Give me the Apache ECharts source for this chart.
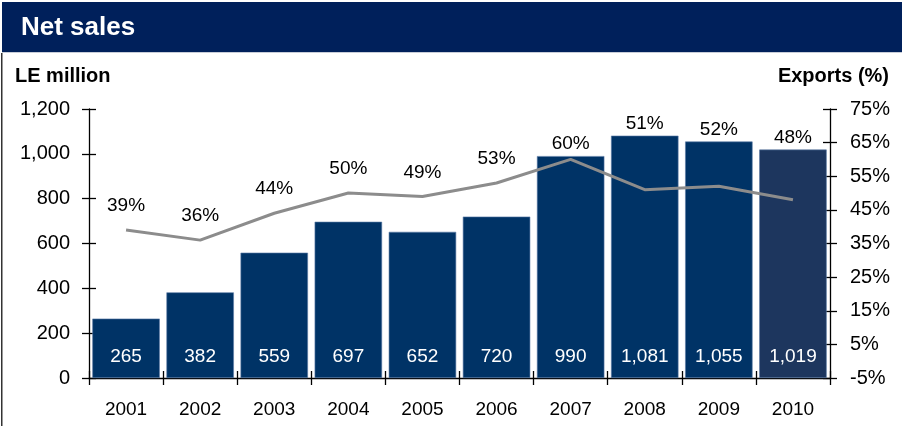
<!DOCTYPE html>
<html>
<head>
<meta charset="utf-8">
<script src="https://cdn.jsdelivr.net/npm/echarts@6/dist/echarts.min.js"></script>
<style>
  html, body { margin: 0; padding: 0; background: #ffffff; }
  #chart { width: 902px; height: 426px; }
</style>
</head>
<body>
<div id="chart"></div>
<script>
// Net sales (LE million) with export share (%)
const years = ['2001', '2002', '2003', '2004', '2005', '2006', '2007', '2008', '2009', '2010'];
const netSales = [265, 382, 559, 697, 652, 720, 990, 1081, 1055, 1019];
const exportsPct = [39, 36, 44, 50, 49, 53, 60, 51, 52, 48];

// Right axis runs from -5% to 75% in steps of 10%
const pctMin = -5;
const pctMax = 75;
const pctStep = 10;

const FONT = '"Liberation Sans", Arial, sans-serif';
const NAVY = '#00205B';
const BAR = '#003366';
const BAR_LAST = '#1D365E';

const chart = echarts.init(document.getElementById('chart'), null, { renderer: 'canvas' });

// percent values shifted so that the axis starts at zero and ticks land on -5, 5, 15 ...
const shift = -pctMin;
const pctAxisData = exportsPct.map(v => v + shift);

const tickLine = { lineStyle: { color: '#000', width: 1.3 } };

const option = {
  animation: false,
  textStyle: { fontFamily: FONT },
  grid: { left: 89, right: 72, top: 109, bottom: 48, containLabel: false },
  graphic: [
    { type: 'rect', left: 2, top: 2, shape: { width: 900, height: 50 }, style: { fill: NAVY } },
    { type: 'rect', left: 2, top: 52, shape: { width: 900, height: 1 }, style: { fill: '#c8cdd8' } },
    { type: 'rect', left: 1, top: 53, shape: { width: 1.5, height: 373 }, style: { fill: '#333' } },
    { type: 'text', left: 21, top: 15, style: { text: 'Net sales', fill: '#fff', font: 'bold 26px ' + FONT } },
    { type: 'text', left: 15, top: 66, style: { text: 'LE million', fill: '#000', font: 'bold 20px ' + FONT } },
    { type: 'text', right: 13, top: 66, style: { text: 'Exports (%)', fill: '#000', font: 'bold 20px ' + FONT } }
  ],
  xAxis: [
    {
      type: 'category', data: years, boundaryGap: true,
      axisLine: { lineStyle: { color: '#000', width: 1.3 } },
      axisTick: Object.assign({ show: true, length: 7, inside: false, alignWithLabel: false }, tickLine),
      axisLabel: { color: '#000', fontSize: 19, margin: 22, fontFamily: FONT }
    },
    {
      type: 'category', data: years, boundaryGap: true, position: 'bottom',
      axisLine: { show: false },
      axisTick: Object.assign({ show: true, length: 7, inside: true }, tickLine),
      axisLabel: { show: false }
    }
  ],
  yAxis: [
    {
      type: 'value', min: 0, max: 1200, interval: 200, position: 'left',
      axisLine: { show: true, lineStyle: { color: '#000', width: 1.3 } },
      axisTick: Object.assign({ show: true, length: 7, inside: false }, tickLine),
      splitLine: { show: false },
      axisLabel: {
        color: '#000', fontSize: 20, margin: 19, fontFamily: FONT,
        formatter: v => v.toLocaleString('en-US')
      }
    },
    {
      type: 'value', min: 0, max: pctMax - pctMin, interval: pctStep, position: 'right',
      axisLine: { show: true, lineStyle: { color: '#000', width: 1.3 } },
      axisTick: Object.assign({ show: true, length: 7, inside: false }, tickLine),
      splitLine: { show: false },
      axisLabel: {
        color: '#000', fontSize: 20, margin: 20, fontFamily: FONT,
        formatter: v => (v - shift) + '%'
      }
    },
    {
      type: 'value', min: 0, max: 1200, interval: 200, position: 'left',
      axisLine: { show: false },
      axisTick: Object.assign({ show: true, length: 7, inside: true }, tickLine),
      splitLine: { show: false }, axisLabel: { show: false }
    },
    {
      type: 'value', min: 0, max: pctMax - pctMin, interval: pctStep, position: 'right',
      axisLine: { show: false },
      axisTick: Object.assign({ show: true, length: 7, inside: true }, tickLine),
      splitLine: { show: false }, axisLabel: { show: false }
    }
  ],
  series: [
    {
      name: 'Net sales', type: 'bar', xAxisIndex: 0, yAxisIndex: 0,
      barCategoryGap: '9%',
      data: netSales.map((v, i) => ({
        value: v,
        itemStyle: { color: i === netSales.length - 1 ? BAR_LAST : BAR }
      })),
      itemStyle: { borderColor: '#5a7aa6', borderWidth: 0.6 },
      label: {
        show: true, position: 'insideBottom', distance: 12,
        color: '#fff', fontSize: 19, fontFamily: FONT,
        formatter: p => p.value.toLocaleString('en-US')
      },
      z: 2
    },
    {
      name: 'Exports', type: 'line', xAxisIndex: 0, yAxisIndex: 1,
      data: pctAxisData,
      symbol: 'circle', symbolSize: 1, showSymbol: true,
      itemStyle: { color: 'rgba(0,0,0,0)' },
      smooth: false,
      lineStyle: { color: '#8C8C8C', width: 3 },
      label: {
        show: true, position: 'top', distance: 14,
        color: '#000', fontSize: 19, fontFamily: FONT,
        formatter: p => exportsPct[p.dataIndex] + '%'
      },
      z: 3
    }
  ]
};

chart.setOption(option);

// Lift each percentage label clear of its bar when the bar top sits above the line point.
const lineData = pctAxisData.map((v, i) => {
  const pointY = chart.convertToPixel({ yAxisIndex: 1 }, v);
  const barTop = chart.convertToPixel({ yAxisIndex: 0 }, netSales[i]);
  let centre;
  if (pointY >= barTop) {
    centre = barTop - 12;
  } else {
    centre = pointY - 24;
  }
  const distance = Math.max(2, pointY - centre - 10);
  return { value: v, label: { distance: distance } };
});

chart.setOption({ series: [{}, { data: lineData }] });
</script>
</body>
</html>
